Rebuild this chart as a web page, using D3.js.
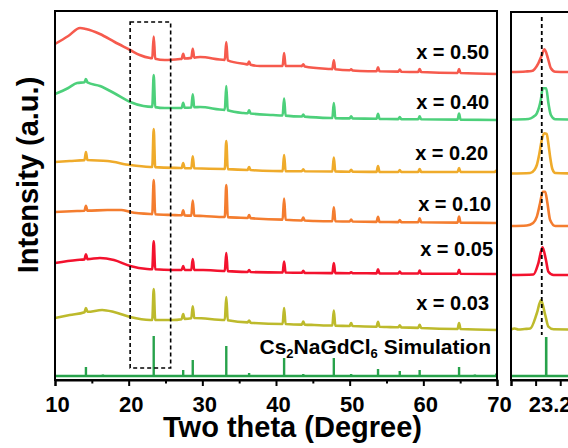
<!DOCTYPE html>
<html>
<head>
<meta charset="utf-8">
<script src="https://cdn.jsdelivr.net/npm/d3@7"></script>
<style>
  body { margin: 0; background: #fff; }
  text { font-family: "Liberation Sans", Arial, sans-serif; font-weight: bold; fill: #000; }
</style>
</head>
<body>
<div id="container"></div>
<script>
/* DATA */
const samples = ["x = 0.50", "x = 0.40", "x = 0.20", "x = 0.10", "x = 0.05", "x = 0.03"];
const colors = ["#F65A4D", "#4DD07B", "#EFAB2B", "#F47D2F", "#F3122E", "#BDBA2C"];
const simColor = "#27A24B";
const simLabel = ["Cs", "2", "NaGdCl", "6", " Simulation"];

// reflection positions (2theta, degree) shared by all patterns
const peakPos = [14.2, 16.5, 23.4, 27.4, 28.7, 33.25, 36.35, 41.1, 43.7, 47.85, 50.2, 53.85, 56.1, 56.8, 59.5, 61.8, 64.85, 67.0, 69.9];

// peak heights above the local background (a.u.), same order as peakPos
const peaks050 = [0, 0, 22, 5, 9, 18, 3, 13, 2, 9, 1, 4, 0, 2, 3, 0, 4, 0, 0];
const peaks040 = [3, 0, 32, 5, 13, 24, 3, 17, 2, 15, 2, 5, 0, 2, 3, 0, 6, 0, 0];
const peaks020 = [8, 0, 38, 5, 12, 28, 3, 16, 2, 14, 2, 6, 0, 2, 3, 0, 4, 0, 2];
const peaks010 = [5, 0, 34, 5, 15, 32, 3, 21, 3, 14, 2, 5, 0, 2, 4, 0, 6, 0, 0];
const peaks005 = [5, 0, 28, 4, 11, 18, 2, 11, 2, 10, 1, 4, 0, 2, 3, 0, 4, 0, 0];
const peaks003 = [4, 0, 31, 5, 12, 23, 2, 16, 3, 15, 3, 5, 0, 2, 3, 0, 6, 0, 0];
const peaksSim = [9, 1.5, 40, 6, 16, 30, 3, 18, 2, 18, 2, 7, 1, 5, 6, 1, 9, 1.5, 2.5];

// backgrounds [2theta, intensity a.u.] (stacked)
const base050 = [[10,336],[11.8,344],[13.4,352],[14.2,351],[16.1,346],[18.1,338],[20.2,330],[21.5,325],[22.9,322],[24.9,320],[27,321],[29.7,323],[33.2,320],[35.8,316],[37.8,314],[43.3,314],[47.4,311],[51.4,309],[59.6,308],[70,306]];
const base040 = [[10,286],[11.8,292],[13,297],[14.2,298],[16.1,294],[18,287],[20.2,278],[22,274],[24.9,272],[27,272],[29.7,273],[33.2,270],[35.5,267],[39.6,265],[47.4,262],[55,261],[70,260]];
const base020 = [[10,218],[12,219],[14.2,220],[17.1,219],[20.2,215],[22.9,213],[27,212],[33.1,211],[39.6,209],[55,208],[70,208]];
const base010 = [[10,168],[13,169],[17.1,170],[19,170],[20.2,168],[22.9,166],[25.9,165],[30.1,164],[36.1,162],[45.2,159],[55,158],[70,157]];
const base005 = [[10,117],[13,120],[16.1,122],[18,120],[20.2,114],[22.5,111],[25.9,110],[30.1,110],[36.1,108],[45.2,107],[70,106]];
const base003 = [[10,62],[12,65],[14.2,68],[16.4,70],[18,68],[20.2,63],[22.9,60],[25.9,60],[29,62],[33.1,60],[37,57],[45.2,55],[55,53],[70,50]];
const baseSim = 4;

// zoomed (220) reflection, right panel
const zoom050 = [[23.10,308],[23.16,308.5],[23.184,309],[23.211,316.7],[23.224,324],[23.236,330.7],[23.250,321.7],[23.262,311.7],[23.28,308.3],[23.36,308]];
const zoom040 = [[23.10,260.5],[23.171,261],[23.19,263],[23.205,266.7],[23.221,280],[23.229,291.7],[23.243,291.7],[23.252,276.7],[23.262,265],[23.28,260.7],[23.36,260.5]];
const zoom020 = [[23.10,206.5],[23.178,207],[23.195,210],[23.205,215],[23.215,226],[23.225,240],[23.235,246.7],[23.245,246],[23.252,236],[23.259,223],[23.268,211],[23.28,207],[23.36,206.5]];
const zoom010 = [[23.10,154],[23.164,154.5],[23.19,157],[23.205,163.3],[23.218,176.7],[23.229,188.3],[23.239,188.3],[23.248,176.7],[23.259,160],[23.28,154],[23.36,154]];
const zoom005 = [[23.10,105],[23.191,105.5],[23.211,116.7],[23.228,132.7],[23.242,120],[23.252,108.3],[23.273,105],[23.36,105]];
const zoom003 = [[23.10,50.5],[23.115,51.5],[23.13,50.5],[23.155,51],[23.178,51.5],[23.205,66.7],[23.222,80],[23.239,65],[23.252,53.3],[23.273,50.7],[23.36,50.5]];
const zoomSimPeak = [23.243, 39];
const zoomRef = 23.225;

const xTicks = [10, 20, 30, 40, 50, 60, 70];
const xMinor = [15, 25, 35, 45, 55, 65];
const zoomTicks = [23.1, 23.2, 23.3];
const zoomTickLabels = {"23.2": "23.2"};
const boxRange = [20.2, 25.7, 12, 358];

const bases = [base050, base040, base020, base010, base005, base003];
const peakSets = [peaks050, peaks040, peaks020, peaks010, peaks005, peaks003];
const zooms = [zoom050, zoom040, zoom020, zoom010, zoom005, zoom003];

/* LAYOUT */
const width = 568, height = 448;
const svg = d3.select("#container").append("svg")
  .attr("width", width).attr("height", height);

const x = d3.scaleLinear().domain([10, 70]).range([55, 497]);
const y = d3.scaleLinear().domain([0, 369]).range([380, 11]);
const xz = d3.scaleLinear().domain([23.1, 23.36]).range([511, 575]);

function buildPattern(base, heights) {
  const b = d3.scaleLinear().domain(base.map(d => d[0])).range(base.map(d => d[1]));
  const pts = base.filter(d => !peakPos.some((p, i) => heights[i] > 0 && Math.abs(d[0] - p) < 0.25));
  peakPos.forEach((p, i) => {
    if (heights[i] > 0) {
      pts.push([p - 0.2, b(p - 0.2)], [p, b(p) + heights[i]], [p + 0.2, b(p + 0.2)]);
    }
  });
  pts.sort((a, c) => a[0] - c[0]);
  return pts.filter(d => d[0] >= 10 && d[0] <= 70);
}

const line = d3.line().x(d => x(d[0])).y(d => y(d[1])).curve(d3.curveMonotoneX);
const lineZ = d3.line().x(d => xz(d[0])).y(d => y(d[1])).curve(d3.curveMonotoneX);

/* MAIN PANEL */
svg.selectAll("path.pattern")
  .data(bases)
  .join("path")
  .attr("class", "pattern")
  .attr("d", (d, i) => line(buildPattern(d, peakSets[i])))
  .attr("fill", "none")
  .attr("stroke", (d, i) => colors[i])
  .attr("stroke-width", 2.6)
  .attr("stroke-linejoin", "round");

// simulation sticks
svg.append("line")
  .attr("x1", x(10)).attr("x2", x(70))
  .attr("y1", y(baseSim)).attr("y2", y(baseSim))
  .attr("stroke", simColor).attr("stroke-width", 2.6);
svg.selectAll("line.stick")
  .data(peakPos.map((p, i) => [p, peaksSim[i]]))
  .join("line")
  .attr("class", "stick")
  .attr("x1", d => x(d[0])).attr("x2", d => x(d[0]))
  .attr("y1", y(baseSim)).attr("y2", d => y(baseSim + d[1]))
  .attr("stroke", simColor).attr("stroke-width", 2.4);

// dashed box
svg.append("rect")
  .attr("x", x(boxRange[0])).attr("y", y(boxRange[3]))
  .attr("width", x(boxRange[1]) - x(boxRange[0]))
  .attr("height", y(boxRange[2]) - y(boxRange[3]))
  .attr("fill", "none").attr("stroke", "#000")
  .attr("stroke-width", 1.6).attr("stroke-dasharray", "4,3");

// frame
svg.append("rect")
  .attr("x", 55).attr("y", 11).attr("width", 442).attr("height", 369)
  .attr("fill", "none").attr("stroke", "#000").attr("stroke-width", 2);

const xAxis = d3.axisBottom(x).tickValues(xTicks).tickSize(6).tickFormat(d3.format("d"));
const gx = svg.append("g").attr("transform", "translate(0,380)").call(xAxis);
gx.select(".domain").attr("stroke-width", 2);
gx.selectAll(".tick line").attr("stroke-width", 2);
gx.selectAll("text").attr("y", 32).attr("dy", 0).attr("dx", 2)
  .style("font-size", "22px").style("font-family", "'Liberation Sans', Arial, sans-serif").style("font-weight", "bold");
svg.append("g").attr("transform", "translate(0,380)")
  .call(d3.axisBottom(x).tickValues(xMinor).tickSize(3.5).tickFormat(""))
  .call(g => g.select(".domain").remove())
  .selectAll(".tick line").attr("stroke-width", 2);

// sample labels
const labelPos = [[489, 59], [489, 108.5], [488, 159.5], [491, 210.5], [493, 256], [489, 310]];
svg.selectAll("text.sample")
  .data(samples)
  .join("text")
  .attr("class", "sample")
  .attr("x", (d, i) => labelPos[i][0]).attr("y", (d, i) => labelPos[i][1])
  .attr("text-anchor", "end")
  .style("font-size", "20px")
  .text(d => d);

const simText = svg.append("text")
  .attr("x", 491).attr("y", 354)
  .attr("text-anchor", "end")
  .style("font-size", "21px");
simText.append("tspan").text(simLabel[0]);
simText.append("tspan").attr("dy", 4).style("font-size", "13px").text(simLabel[1]);
simText.append("tspan").attr("dy", -4).text(simLabel[2]);
simText.append("tspan").attr("dy", 4).style("font-size", "13px").text(simLabel[3]);
simText.append("tspan").attr("dy", -4).text(simLabel[4]);

/* ZOOM PANEL */
svg.selectAll("path.zoom")
  .data(zooms)
  .join("path")
  .attr("class", "zoom")
  .attr("d", d => lineZ(d))
  .attr("fill", "none")
  .attr("stroke", (d, i) => colors[i])
  .attr("stroke-width", 2.6);

svg.append("line")
  .attr("x1", xz(23.1)).attr("x2", xz(23.36))
  .attr("y1", y(baseSim)).attr("y2", y(baseSim))
  .attr("stroke", simColor).attr("stroke-width", 2.6);
svg.append("line")
  .attr("x1", xz(zoomSimPeak[0])).attr("x2", xz(zoomSimPeak[0]))
  .attr("y1", y(baseSim)).attr("y2", y(baseSim + zoomSimPeak[1]))
  .attr("stroke", simColor).attr("stroke-width", 2.6);

svg.append("line")
  .attr("x1", xz(zoomRef)).attr("x2", xz(zoomRef))
  .attr("y1", y(363)).attr("y2", y(45))
  .attr("stroke", "#000").attr("stroke-width", 1.8).attr("stroke-dasharray", "4,3");

svg.append("rect")
  .attr("x", 511).attr("y", 12).attr("width", 80).attr("height", 368)
  .attr("fill", "none").attr("stroke", "#000").attr("stroke-width", 2);

const gz = svg.append("g").attr("transform", "translate(0,380)")
  .call(d3.axisBottom(xz).tickValues(zoomTicks).tickSize(6).tickFormat(d => zoomTickLabels[d.toFixed(1)] || ""));
gz.select(".domain").attr("stroke-width", 2);
gz.selectAll(".tick line").attr("stroke-width", 2);
gz.selectAll("text").attr("y", 32).attr("dy", 0).attr("dx", 14)
  .style("font-size", "22px").style("font-family", "'Liberation Sans', Arial, sans-serif").style("font-weight", "bold");

/* AXIS TITLES */
svg.append("text")
  .attr("transform", "translate(38,175) rotate(-90)")
  .attr("text-anchor", "middle")
  .style("font-size", "29px")
  .text("Intensity (a.u.)");
svg.append("text")
  .attr("x", 292.5).attr("y", 437)
  .attr("text-anchor", "middle")
  .style("font-size", "29px")
  .text("Two theta (Degree)");
</script>
</body>
</html>
